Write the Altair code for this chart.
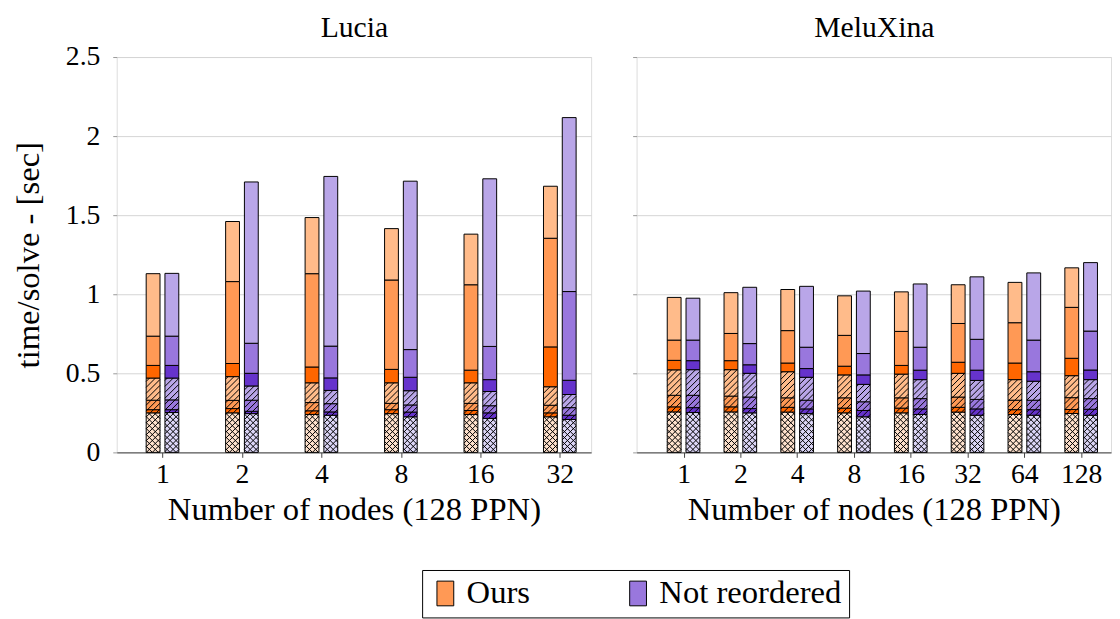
import altair as alt
import numpy as np
import pandas as pd

# ---------------- data ----------------
LUCIA_NODES = ["1", "2", "4", "8", "16", "32"]
MELU_NODES = ["1", "2", "4", "8", "16", "32", "64", "128"]
SERIES = ["Ours", "Not reordered"]

# per node: 7 stacked phase times, bottom -> top
LUCIA_OURS = [
    [0.25, 0.02, 0.06, 0.14, 0.08, 0.185, 0.395],
    [0.25, 0.027, 0.052, 0.15, 0.083, 0.518, 0.38],
    [0.24, 0.023, 0.052, 0.125, 0.10, 0.59, 0.355],
    [0.245, 0.025, 0.04, 0.13, 0.085, 0.565, 0.325],
    [0.24, 0.025, 0.045, 0.13, 0.08, 0.54, 0.32],
    [0.225, 0.025, 0.048, 0.117, 0.252, 0.687, 0.329],
]
LUCIA_NOREORD = [
    [0.252, 0.018, 0.062, 0.138, 0.08, 0.185, 0.397],
    [0.245, 0.015, 0.07, 0.09, 0.08, 0.19, 1.02],
    [0.235, 0.021, 0.052, 0.084, 0.079, 0.201, 1.073],
    [0.225, 0.03, 0.045, 0.09, 0.085, 0.175, 1.065],
    [0.215, 0.035, 0.045, 0.09, 0.075, 0.21, 1.06],
    [0.208, 0.027, 0.048, 0.083, 0.09, 0.561, 1.10],
]
MELU_OURS = [
    [0.256, 0.032, 0.073, 0.161, 0.06, 0.128, 0.27],
    [0.256, 0.032, 0.068, 0.167, 0.057, 0.172, 0.258],
    [0.255, 0.03, 0.06, 0.165, 0.055, 0.205, 0.26],
    [0.25, 0.03, 0.065, 0.145, 0.055, 0.195, 0.25],
    [0.25, 0.03, 0.065, 0.15, 0.055, 0.215, 0.25],
    [0.255, 0.03, 0.065, 0.15, 0.07, 0.245, 0.245],
    [0.24, 0.03, 0.06, 0.13, 0.105, 0.255, 0.255],
    [0.246, 0.025, 0.075, 0.139, 0.11, 0.322, 0.25],
]
MELU_NOREORD = [
    [0.252, 0.031, 0.078, 0.162, 0.057, 0.13, 0.265],
    [0.25, 0.027, 0.073, 0.15, 0.054, 0.134, 0.356],
    [0.245, 0.03, 0.055, 0.145, 0.055, 0.135, 0.385],
    [0.225, 0.04, 0.055, 0.11, 0.06, 0.135, 0.395],
    [0.24, 0.035, 0.065, 0.12, 0.06, 0.145, 0.40],
    [0.235, 0.04, 0.06, 0.12, 0.065, 0.195, 0.395],
    [0.235, 0.035, 0.06, 0.12, 0.06, 0.20, 0.425],
    [0.235, 0.038, 0.067, 0.12, 0.061, 0.246, 0.433],
]

# ---------------- style ----------------
ORANGE = ["#ffe2cd", "#ff6600", "#ff9955", "#ffbb8a", "#ff6600", "#ff9955", "#ffbb8a"]
PURPLE = ["#dcd6f7", "#6633cc", "#9977dd", "#b9a6e8", "#6633cc", "#9977dd", "#b9a6e8"]
PATTERN = [(1, -1), (1,), (1,), (1,), (), (), ()]   # crosshatch / north-east lines / solid
LEGEND_COLORS = ["#ff9955", "#9977dd"]
FONT = "Liberation Serif"

W, H = 480, 400
YMAX = 2.5
KY = H / YMAX
BAR_W = 14.0      # px
BAR_OFF = 9.5     # px, distance of each bar centre from the group centre
HATCH = 6.0       # px, hatch line spacing (vertical)


def hatch_lines(Xa, Xb, Ya, Yb, dirs):
    out = []
    for sgn in dirs:
        if sgn > 0:
            cmin, cmax = Ya - Xb, Yb - Xa
        else:
            cmin, cmax = Ya + Xa, Yb + Xb
        c = np.ceil(cmin / HATCH) * HATCH
        while c <= cmax:
            if sgn > 0:
                xs, xe = max(Xa, Ya - c), min(Xb, Yb - c)
                if xe - xs > 0.05:
                    out.append((xs, xs + c, xe, xe + c))
            else:
                xs, xe = max(Xa, c - Yb), min(Xb, c - Ya)
                if xe - xs > 0.05:
                    out.append((xs, c - xs, xe, c - xe))
            c += HATCH
    return out


def build(nodes, ours, noreord, first_px, step_px):
    d0 = -first_px / step_px
    d1 = d0 + W / step_px
    bars, lines = [], []
    for i, _ in enumerate(nodes):
        for s, (vals, cols) in enumerate([(ours, ORANGE), (noreord, PURPLE)]):
            cpx = (i - d0) * step_px + (-BAR_OFF if s == 0 else BAR_OFF)
            Xa, Xb = cpx - BAR_W / 2, cpx + BAR_W / 2
            base = 0.0
            for k, v in enumerate(vals[i]):
                y0, y1 = base, base + v
                bars.append(dict(x=Xa / step_px + d0, x2=Xb / step_px + d0,
                                 y=y0, y2=y1, fill=cols[k], series=SERIES[s]))
                for (xs, ys, xe, ye) in hatch_lines(Xa, Xb, y0 * KY, y1 * KY, PATTERN[k]):
                    lines.append(dict(x=xs / step_px + d0, x2=xe / step_px + d0,
                                      y=ys / KY, y2=ye / KY))
                base = y1
    return pd.DataFrame(bars), pd.DataFrame(lines), d0, d1


def panel(title, nodes, ours, noreord, first_px, step_px, first):
    bars_df, lines_df, d0, d1 = build(nodes, ours, noreord, first_px, step_px)
    xscale = alt.Scale(domain=[d0, d1], nice=False, zero=False)
    yscale = alt.Scale(domain=[0, YMAX], nice=False)
    label_expr = "[" + ",".join("'%s'" % n for n in nodes) + "][datum.value]"
    xaxis = alt.Axis(values=list(range(len(nodes))), labelExpr=label_expr,
                     title="Number of nodes (128 PPN)", grid=False,
                     domainColor="#444444", tickColor="#444444", tickSize=5,
                     labelFont=FONT, labelFontSize=28, labelColor="black", labelPadding=3,
                     titleFont=FONT, titleFontSize=33, titleFontWeight="normal",
                     titleColor="black", titlePadding=6)
    topaxis = alt.Axis(orient="top", title=title, labels=False, ticks=False,
                       domain=False, grid=False, titleFont=FONT, titleFontSize=30,
                       titleFontWeight="normal", titleColor="black",
                       titleBaseline="top", titlePadding=45)
    if first:
        yaxis = alt.Axis(values=[0, 0.5, 1, 1.5, 2, 2.5], format="~g",
                         title="time/solve - [sec]", domain=False, grid=True,
                         gridColor="#d4d4d4", tickColor="#999999", tickSize=4,
                         labelFont=FONT, labelFontSize=28, labelColor="black", labelPadding=13,
                         titleFont=FONT, titleFontSize=33, titleFontWeight="normal",
                         titleColor="black", titlePadding=20)
    else:
        yaxis = alt.Axis(values=[0, 0.5, 1, 1.5, 2, 2.5], labels=False, title=None,
                         domain=False, grid=True, gridColor="#d4d4d4",
                         tickColor="#999999", tickSize=4)
    bars = alt.Chart(bars_df).mark_bar(stroke="black", strokeWidth=1).encode(
        x=alt.X("x:Q", scale=xscale, axis=xaxis),
        x2="x2:Q",
        y=alt.Y("y:Q", scale=yscale, axis=yaxis),
        y2="y2:Q",
        fill=alt.Fill("fill:N", scale=None),
    )
    hatch = alt.Chart(lines_df).mark_rule(color="black", strokeWidth=1).encode(
        x=alt.X("x:Q", axis=topaxis), x2="x2:Q", y="y:Q", y2="y2:Q")
    layers = [bars, hatch]
    if first:
        leg = alt.Chart(pd.DataFrame({"series": SERIES})).mark_bar(
            opacity=0, stroke="black").encode(
            color=alt.Color("series:N",
                            scale=alt.Scale(domain=SERIES, range=LEGEND_COLORS),
                            legend=alt.Legend(
                                orient="none", legendX=309, legendY=519,
                                direction="horizontal", title=None,
                                symbolType="M-0.68,-1L0.68,-1L0.68,1L-0.68,1Z",
                                symbolSize=625, symbolStrokeColor="black",
                                symbolStrokeWidth=1, symbolOpacity=1,
                                labelFont=FONT, labelFontSize=33, labelColor="black",
                                labelLimit=0, labelOffset=5, columnPadding=92,
                                strokeColor="black", fillColor="white", padding=7)))
        layers.append(leg)
    return alt.layer(*layers).resolve_axis(x="independent").properties(width=W, height=H)


lucia = panel("Lucia", LUCIA_NODES, LUCIA_OURS, LUCIA_NOREORD, 46.3, 80.4, True)
melu = panel("MeluXina", MELU_NODES, MELU_OURS, MELU_NOREORD, 47.5, 57.47, False)

chart = alt.hconcat(lucia, melu, spacing=40).properties(
    padding={"left": 4, "top": 0, "right": 0, "bottom": 0}
).configure_view(stroke=None).configure(background="white")

chart.save("out.html", embed_options={"renderer": "svg", "actions": False})
